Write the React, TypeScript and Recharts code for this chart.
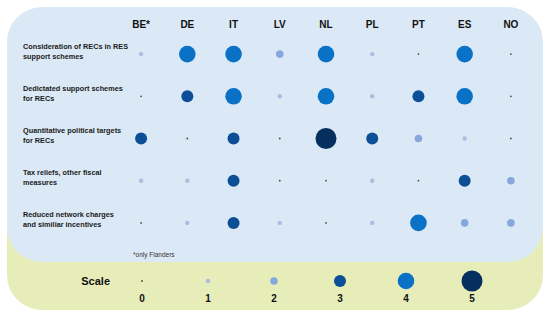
import { ScatterChart, Scatter, XAxis, YAxis } from "recharts";

const countries = ["BE*", "DE", "IT", "LV", "NL", "PL", "PT", "ES", "NO"];
const measures = [
  ["Consideration of RECs in RES", "support schemes"],
  ["Dedictated support schemes", "for RECs"],
  ["Quantitative political targets", "for RECs"],
  ["Tax reliefs, other fiscal", "measures"],
  ["Reduced network charges", "and similiar incentives"],
];
// one array per measure, values in country order
const considerationRES = [1, 4, 4, 2, 4, 1, 0, 4, 0];
const dedicatedSchemes = [0, 3, 4, 1, 4, 1, 3, 4, 0];
const politicalTargets = [3, 0, 3, 0, 5, 3, 2, 1, 0];
const taxReliefs = [1, 1, 3, 0, 0, 1, 0, 3, 2];
const networkCharges = [0, 1, 3, 1, 0, 1, 4, 2, 2];
const scaleLevels = [0, 1, 2, 3, 4, 5];

const levelColors = ["#4a4a4a", "#aabde0", "#86a8dc", "#0c4f97", "#0a72c6", "#052f5e"];
const levelRadius = [0.9, 2.2, 3.8, 6, 8.3, 10.5];

const rows = [considerationRES, dedicatedSchemes, politicalTargets, taxReliefs, networkCharges];
const cells = rows.flatMap((vals, r) => vals.map((v, c) => ({ x: c, y: r, v })));
const scaleData = scaleLevels.map((v) => ({ x: v, y: 0.5, v }));

const font = "'Liberation Sans', Arial, sans-serif";

const Bubble = (props: any) => {
  const v = props.payload.v;
  return <circle cx={props.cx} cy={props.cy} r={levelRadius[v]} fill={levelColors[v]} />;
};

const CountryTick = (props: any) => (
  <text x={props.x} y={28} textAnchor="middle" fontSize={10} fontWeight="bold" fill="#111" fontFamily={font}>
    {countries[props.payload.value]}
  </text>
);

const MeasureTick = (props: any) => {
  const lines = measures[props.payload.value];
  return (
    <text x={23} y={props.y} fontSize={7.3} fontWeight="bold" fill="#1a1a1a" fontFamily={font}>
      <tspan x={23} dy={-5.6}>{lines[0]}</tspan>
      <tspan x={23} dy={10}>{lines[1]}</tspan>
    </text>
  );
};

const LevelTick = (props: any) => (
  <text x={props.x} y={302} textAnchor="middle" fontSize={10} fontWeight="bold" fill="#111" fontFamily={font}>
    {props.payload.value}
  </text>
);

const ScaleTick = (props: any) => (
  <text x={110} y={props.y + 4} textAnchor="end" fontSize={11} fontWeight="bold" fill="#111" fontFamily={font}>
    Scale
  </text>
);

export default function App() {
  return (
    <div style={{ position: "absolute", left: 0, top: 0, width: 550, height: 318, background: "#fff", overflow: "hidden" }}>
      <div style={{ position: "absolute", left: 7, top: 150, width: 536, height: 160, background: "#e6edb9", borderRadius: "0 0 35px 35px" }} />
      <div style={{ position: "absolute", left: 7, top: 7, width: 536, height: 255, background: "#dbe9f6", borderRadius: 35 }} />
      <div style={{ position: "absolute", left: 133, top: 251, fontSize: 6.5, fontFamily: font, color: "#333", lineHeight: "8px" }}>
        *only Flanders
      </div>
      <div style={{ position: "absolute", left: 0, top: 0 }}>
        <ScatterChart width={550} height={318} margin={{ top: 0, right: 16, bottom: 74, left: 0 }}>
          <XAxis
            type="number"
            dataKey="x"
            orientation="top"
            domain={[-0.5, 8.5]}
            ticks={[0, 1, 2, 3, 4, 5, 6, 7, 8]}
            height={33}
            axisLine={false}
            tickLine={false}
            tick={<CountryTick />}
          />
          <YAxis
            type="number"
            dataKey="y"
            domain={[-0.5, 4.5]}
            ticks={[0, 1, 2, 3, 4]}
            reversed
            width={118}
            axisLine={false}
            tickLine={false}
            tick={<MeasureTick />}
          />
          <Scatter data={cells} shape={<Bubble />} isAnimationActive={false} />
        </ScatterChart>
      </div>
      <div style={{ position: "absolute", left: 0, top: 0 }}>
        <ScatterChart width={550} height={318} margin={{ top: 271, right: 45, bottom: 0, left: 0 }}>
          <XAxis
            type="number"
            dataKey="x"
            domain={[-0.5, 5.5]}
            ticks={scaleLevels}
            height={27}
            axisLine={false}
            tickLine={false}
            tick={<LevelTick />}
          />
          <YAxis
            type="number"
            dataKey="y"
            domain={[0, 1]}
            ticks={[0.5]}
            width={109}
            axisLine={false}
            tickLine={false}
            tick={<ScaleTick />}
          />
          <Scatter data={scaleData} shape={<Bubble />} isAnimationActive={false} />
        </ScatterChart>
      </div>
    </div>
  );
}
